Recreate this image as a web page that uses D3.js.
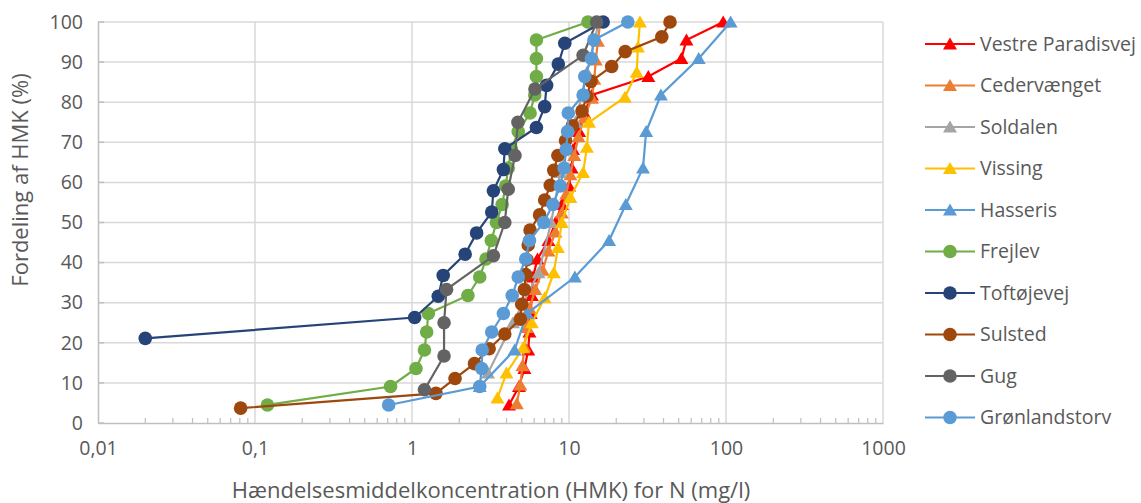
<!DOCTYPE html>
<html><head><meta charset="utf-8">
<script src="https://cdn.jsdelivr.net/npm/d3@7"></script>
<style>
html,body{margin:0;padding:0;background:#fff;}
text{font-family:"Open Sans","Noto Sans",sans-serif;fill:#595959;}
</style></head>
<body><svg id="chart" width="1141" height="503"></svg>
<script>
// ---- data ----
const seriesNames = ["Vestre Paradisvej","Cedervænget","Soldalen","Vissing","Hasseris","Frejlev","Toftøjevej","Sulsted","Gug","Grønlandstorv"];
const seriesColors = ["#FF0000","#ED7D31","#A5A5A5","#FFC000","#5B9BD5","#70AD47","#264478","#9E480E","#636363","#5B9BD5"];
const seriesMarkers = ["triangle","triangle","triangle","triangle","triangle","circle","circle","circle","circle","circle"];

const vestreP_pct = [4.5,9.1,13.6,18.2,22.7,27.3,31.8,36.4,40.9,45.5,50,54.5,59.1,63.6,68.2,72.7,77.3,81.8,86.4,90.9,95.5,100];
const vestreP_val = [4.15,4.8,5.2,5.5,5.6,5.7,5.8,5.9,6.3,7.4,8.2,9.0,10.0,10.4,10.6,11.6,12.5,14,32,52,56,96];

const ceder_pct = [4.8,9.5,14.3,19,23.8,28.6,33.3,38.1,42.9,47.6,52.4,57.1,61.9,66.7,71.4,76.2,81,85.7,90.5,95.2,100];
const ceder_val = [4.65,4.9,5.05,5.2,5.4,5.6,6.1,6.8,7.4,8.2,9.0,9.6,10.2,10.8,11.5,12.5,14,14.5,14.8,15.3,15.8];

const soldalen_pct = [12.5,25,37.5,50,62.5,75,87.5,100];
const soldalen_val = [3.05,4.4,6.4,7.7,8.8,11,13,15.5];

const vissing_pct = [6.25,12.5,18.75,25,31.25,37.5,43.75,50,56.25,62.5,68.75,75,81.25,87.5,93.75,100];
const vissing_val = [3.5,4.0,5.1,5.8,7.0,8.0,8.5,9.0,10.2,12.3,13,13.4,22.7,27,27.5,28.3];

const hasseris_pct = [9.1,18.2,27.3,36.4,45.5,54.5,63.6,72.7,81.8,90.9,100];
const hasseris_val = [2.7,4.5,5.4,10.9,18,23,29.6,31,38.5,67,107];

const frejlev_pct = [4.5,9.1,13.6,18.2,22.7,27.3,31.8,36.4,40.9,45.5,50,54.5,59.1,63.6,68.2,72.7,77.3,81.8,86.4,90.9,95.5,100];
const frejlev_val = [0.12,0.73,1.06,1.2,1.24,1.27,2.27,2.7,2.96,3.2,3.45,3.75,3.95,4.1,4.3,4.75,5.65,6.05,6.2,6.2,6.2,13.2];

const toft_pct = [21.1,26.3,31.6,36.8,42.1,47.4,52.6,57.9,63.2,68.4,73.7,78.9,84.2,89.5,94.7,100];
const toft_val = [0.02,1.04,1.47,1.58,2.18,2.58,3.22,3.3,3.82,3.9,6.2,7.0,7.2,8.55,9.4,16.5];

const sulsted_pct = [3.7,7.4,11.1,14.8,18.5,22.2,25.9,29.6,33.3,37,40.7,44.4,48.1,51.9,55.6,59.3,63,66.7,70.4,74.1,77.8,81.5,85.2,88.9,92.6,96.3,100];
const sulsted_val = [0.081,1.42,1.88,2.5,3.1,3.9,4.9,5.0,5.2,5.3,5.4,5.5,5.65,6.5,7.0,7.6,8.0,8.5,9.5,10.5,12.1,13.0,13.8,18.7,22.8,39,44];

const gug_pct = [8.3,16.7,25,33.3,41.7,50,58.3,66.7,75,83.3,91.7,100];
const gug_val = [1.2,1.6,1.6,1.66,3.3,3.9,4.1,4.53,4.73,6.07,12.3,15.0];

const gron_pct = [4.5,9.1,13.6,18.2,22.7,27.3,31.8,36.4,40.9,45.5,50,54.5,59.1,63.6,68.2,72.7,77.3,81.8,86.4,90.9,95.5,100];
const gron_val = [0.71,2.7,2.78,2.8,3.22,3.82,4.35,4.75,5.3,5.6,6.9,7.9,8.8,9.3,9.6,9.8,9.9,12.3,12.6,13.9,14.4,23.7];

const xTickValues = [0.01,0.1,1,10,100,1000];
const xTickLabels = ["0,01","0,1","1","10","100","1000"];
const yTickValues = [0,10,20,30,40,50,60,70,80,90,100];
const xTitle = "Hændelsesmiddelkoncentration (HMK) for N (mg/l)";
const yTitle = "Fordeling af HMK (%)";

const seriesData = [
  [vestreP_val, vestreP_pct],[ceder_val, ceder_pct],[soldalen_val, soldalen_pct],[vissing_val, vissing_pct],
  [hasseris_val, hasseris_pct],[frejlev_val, frejlev_pct],[toft_val, toft_pct],[sulsted_val, sulsted_pct],
  [gug_val, gug_pct],[gron_val, gron_pct]
].map(([v,p]) => v.map((x,i)=>({x, y:p[i]})));

// ---- layout ----
const svg = d3.select("#chart");
const L = 98, R = 883, T = 22, B = 423;
const x = d3.scaleLog().domain([0.01,1000]).range([L,R]);
const y = d3.scaleLinear().domain([0,100]).range([B,T]);

const grid = svg.append("g");
grid.selectAll("line.h").data(yTickValues.filter(d=>d>0)).join("line")
  .attr("x1",L).attr("x2",R).attr("y1",d=>y(d)).attr("y2",d=>y(d))
  .attr("stroke","#d9d9d9").attr("stroke-width",1.5);
grid.selectAll("line.v").data(xTickValues.filter(d=>d>0.01)).join("line")
  .attr("x1",d=>x(d)).attr("x2",d=>x(d)).attr("y1",T).attr("y2",B)
  .attr("stroke","#d9d9d9").attr("stroke-width",1.5);

// x axis
const xAxis = d3.axisBottom(x).tickValues(xTickValues).tickFormat((d,i)=>xTickLabels[i]).tickSize(0).tickPadding(18);
const gx = svg.append("g").attr("transform",`translate(0,${B})`).call(xAxis);
gx.select(".domain").attr("stroke","#bfbfbf").attr("stroke-width",1.5);
gx.selectAll("text").attr("font-size",19.5).attr("fill","#595959").attr("font-family","Open Sans");
// minor ticks
const minor = [];
for (let e=-2; e<3; e++) for (let k=2;k<10;k++) minor.push(k*Math.pow(10,e));
svg.append("g").selectAll("line").data(minor).join("line")
  .attr("x1",d=>x(d)).attr("x2",d=>x(d)).attr("y1",B-5).attr("y2",B)
  .attr("stroke","#bfbfbf").attr("stroke-width",1.2);

// y axis
const yAxis = d3.axisLeft(y).tickValues(yTickValues).tickSize(0).tickPadding(15);
const gy = svg.append("g").attr("transform",`translate(${L},0)`).call(yAxis);
gy.select(".domain").attr("stroke","#bfbfbf").attr("stroke-width",1.5);
gy.selectAll("text").attr("font-size",19.5).attr("fill","#595959").attr("font-family","Open Sans");
svg.append("g").selectAll("line").data(yTickValues).join("line")
  .attr("x1",L).attr("x2",L+6).attr("y1",d=>y(d)).attr("y2",d=>y(d))
  .attr("stroke","#bfbfbf").attr("stroke-width",1.5);

// titles
svg.append("text").attr("x",491).attr("y",498).attr("text-anchor","middle")
  .attr("font-size",22).text(xTitle);
svg.append("text").attr("transform",`translate(28,180) rotate(-90)`).attr("text-anchor","middle")
  .attr("font-size",22).text(yTitle);

// marker shapes
const triPath = "M0,-6.5L7,5.5L-7,5.5Z";
function drawMarker(g, type, color){
  if (type==="circle") g.append("circle").attr("r",6.8).attr("fill",color);
  else g.append("path").attr("d",triPath).attr("fill",color);
}

const line = d3.line().x(d=>x(d.x)).y(d=>y(d.y));
const plot = svg.append("g");
seriesData.forEach((data,i)=>{
  const g = plot.append("g");
  g.append("path").datum(data).attr("d",line).attr("fill","none")
    .attr("stroke",seriesColors[i]).attr("stroke-width",2.2);
  g.selectAll("g.m").data(data).join("g").attr("class","m")
    .attr("transform",d=>`translate(${x(d.x)},${y(d.y)})`)
    .each(function(){ drawMarker(d3.select(this), seriesMarkers[i], seriesColors[i]); });
});

// legend
const leg = svg.append("g");
seriesNames.forEach((name,i)=>{
  const ly = 44 + i*41.5;
  const g = leg.append("g").attr("transform",`translate(0,${ly})`);
  g.append("line").attr("x1",925).attr("x2",975).attr("y1",0).attr("y2",0)
    .attr("stroke",seriesColors[i]).attr("stroke-width",2.2);
  const m = g.append("g").attr("transform","translate(950,0)");
  drawMarker(m, seriesMarkers[i], seriesColors[i]);
  g.append("text").attr("x",980).attr("y",0).attr("dy","0.35em").attr("font-size",19.5).text(name);
});
</script></body></html>
